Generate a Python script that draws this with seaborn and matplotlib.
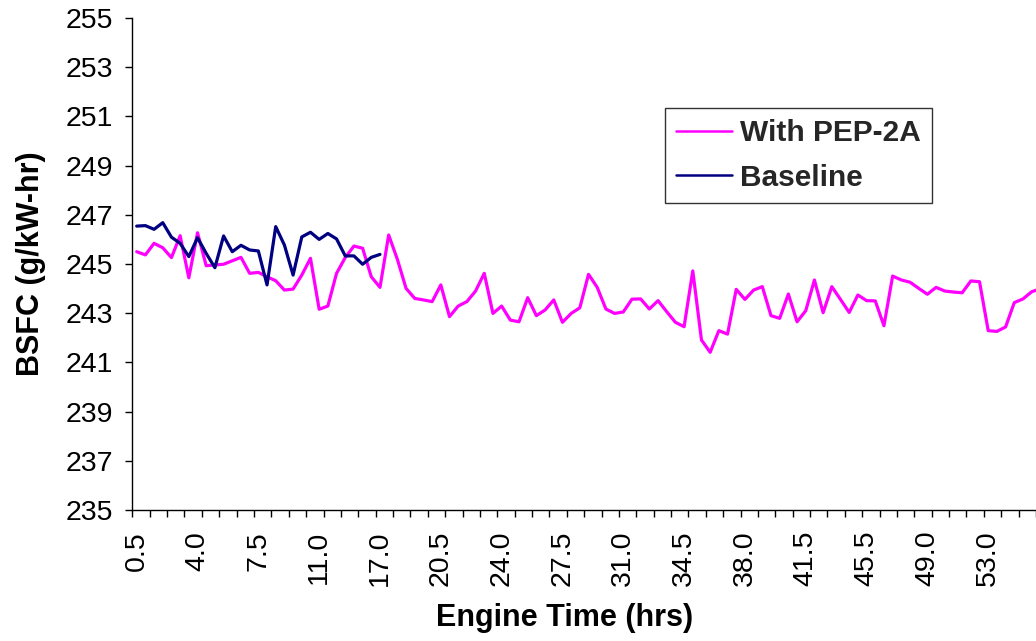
import numpy as np
import pandas as pd
import matplotlib
matplotlib.use("Agg")
import matplotlib.pyplot as plt
import seaborn as sns
from matplotlib.lines import Line2D

sns.set_theme(style="white")
plt.rcParams['font.family'] = ['Liberation Sans', 'DejaVu Sans']

# engine time categories (hrs), one per test point
hours = [0.5, 1.0, 1.5, 2.0, 2.5, 3.0, 3.5, 4.0, 4.5, 5.0, 5.5, 6.0, 6.5, 7.0, 7.5,
         8.0, 8.5, 9.0, 9.5, 10.0, 10.5, 11.0,
         11.5, 14.5, 15.0, 15.5, 16.0, 16.5,
         17.0, 17.5, 18.0, 18.5, 19.0, 19.5, 20.0, 20.5, 21.0, 21.5, 22.0, 22.5,
         23.0, 23.5, 24.0, 24.5, 25.0, 25.5, 26.0, 26.5, 27.0, 27.5, 28.0, 28.5,
         29.0, 29.5, 30.0, 30.5, 31.0, 31.5, 32.0, 32.5, 33.0, 33.5, 34.0, 34.5,
         35.0, 35.5, 36.0, 36.5, 37.0, 37.5, 38.0, 38.5, 39.0, 39.5, 40.0, 40.5,
         41.0, 41.5,
         42.0, 42.5, 43.0, 43.5, 44.0, 44.5, 45.5,
         46.0, 46.5, 47.0, 47.5, 48.0, 48.5, 49.0,
         49.5, 50.0, 50.5, 51.0, 51.5, 52.0, 53.0,
         53.5, 54.0, 54.5, 55.0, 55.5, 56.0]

# BSFC (g/kW-hr) with PEP-2A
pep2a = [245.50, 245.37, 245.84, 245.66, 245.26, 246.15, 244.44, 246.27, 244.93, 244.96,
         244.99, 245.13, 245.27, 244.62, 244.66, 244.48, 244.32, 243.94, 243.98, 244.55,
         245.23, 243.16, 243.29, 244.62, 245.26, 245.73, 245.64, 244.48, 244.05, 246.18,
         245.19, 244.01, 243.60, 243.54, 243.47, 244.15, 242.86, 243.29, 243.47, 243.90,
         244.62, 242.99, 243.29, 242.72, 242.65, 243.63, 242.90, 243.13, 243.54, 242.63,
         242.99, 243.22, 244.58, 244.05, 243.17, 242.99, 243.05, 243.57, 243.58, 243.17,
         243.51, 243.06, 242.63, 242.45, 244.72, 241.91, 241.41, 242.29, 242.15, 243.97,
         243.56, 243.94, 244.08, 242.90, 242.79, 243.78, 242.65, 243.10, 244.35, 243.02,
         244.08, 243.56, 243.03, 243.74, 243.51, 243.50, 242.49, 244.51, 244.35, 244.26,
         244.01, 243.77, 244.05, 243.90, 243.86, 243.83, 244.31, 244.28, 242.29, 242.26,
         242.44, 243.43, 243.58, 243.87, 244.00]

# BSFC baseline (first 29 points)
baseline = [246.54, 246.56, 246.41, 246.68, 246.09, 245.84, 245.30, 246.07, 245.43, 244.85,
            246.14, 245.50, 245.76, 245.57, 245.53, 244.15, 246.52, 245.77, 244.55, 246.10,
            246.29, 246.00, 246.24, 246.02, 245.33, 245.33, 244.99, 245.27, 245.39]

series_names = ['With PEP-2A', 'Baseline']
colors = {'With PEP-2A': '#FF00FF', 'Baseline': '#000080'}

df = pd.concat([
    pd.DataFrame({'pos': np.arange(len(pep2a)), 'hours': hours[:len(pep2a)],
                  'bsfc': pep2a, 'series': series_names[0]}),
    pd.DataFrame({'pos': np.arange(len(baseline)), 'hours': hours[:len(baseline)],
                  'bsfc': baseline, 'series': series_names[1]}),
])

fig = plt.figure(figsize=(10.36, 6.41), dpi=100)
ax = fig.add_axes([0.12775, 0.2044, 0.87225, 0.7675])

sns.lineplot(data=df, x='pos', y='bsfc', hue='series', palette=colors,
             linewidth=2.3, errorbar=None, legend=False, ax=ax)

ax.set_xlim(-0.5, 103.37)
ax.set_ylim(235, 255)
ax.set_yticks(np.arange(235, 256, 2))

# tick marks between categories every 2, labels every 7 categories
ax.set_xticks(np.arange(-0.5, len(hours), 2))
ax.set_xticklabels([])
lab_pos = list(range(0, len(hours), 7))
ax.set_xticks(lab_pos, minor=True)
ax.set_xticklabels([f"{hours[i]:.1f}" for i in lab_pos], minor=True, rotation=90)
ax.tick_params(axis='x', which='major', direction='out', length=5, width=1, color='black')
ax.tick_params(axis='x', which='minor', length=0, pad=15, labelsize=20.5, colors='black')
ax.tick_params(axis='y', direction='out', length=5, width=1, color='black',
               pad=9, labelsize=20.5, labelcolor='black')
ax.tick_params(left=True, bottom=True)

for s in ['top', 'right']:
    ax.spines[s].set_visible(False)
for s in ['left', 'bottom']:
    ax.spines[s].set_color('black')
    ax.spines[s].set_linewidth(1)

ax.set_xlabel('Engine Time (hrs)', fontsize=22, fontweight='bold', color='black')
ax.set_ylabel('BSFC (g/kW-hr)', fontsize=22, fontweight='bold', color='black')
ax.xaxis.set_label_coords(0.4788, -0.19)
ax.xaxis.label.set_va('top')
ax.yaxis.set_label_coords(-0.096, 0.5)

handles = [Line2D([0], [0], color=colors[n], lw=1.8, label=n) for n in series_names]
leg = ax.legend(handles=handles, loc='upper left', bbox_to_anchor=(0.5894, 0.8171),
                borderaxespad=0, frameon=True, fancybox=False, shadow=False,
                prop={'size': 21.5, 'weight': 'bold'}, handlelength=1.87,
                handletextpad=0.27, labelspacing=0.55, borderpad=0.38)
leg.get_frame().set_edgecolor('black')
leg.get_frame().set_linewidth(1)

fig.savefig('out.png', dpi=100)
